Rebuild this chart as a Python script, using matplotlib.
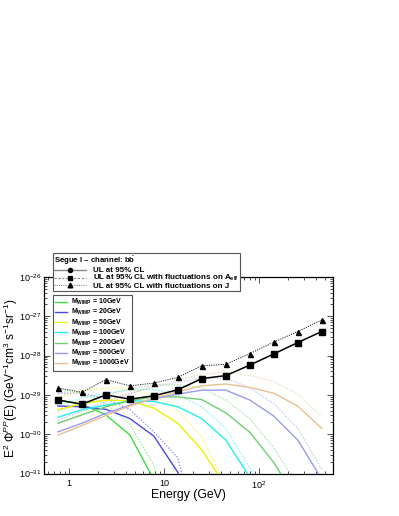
import matplotlib
matplotlib.use("Agg")
import matplotlib.pyplot as plt
from matplotlib.lines import Line2D
from matplotlib.ticker import LogLocator, FixedLocator, FixedFormatter, NullFormatter

plt.rcParams['font.family'] = ['Liberation Sans', 'DejaVu Sans']
plt.rcParams['mathtext.fontset'] = 'custom'
plt.rcParams['mathtext.rm'] = 'Liberation Sans'
plt.rcParams['mathtext.it'] = 'Liberation Sans:italic'
plt.rcParams['mathtext.bf'] = 'Liberation Sans:bold'

# ---------------- data ----------------
energy = [0.766, 1.37, 2.45, 4.38, 7.83, 14.0, 25.0, 44.8, 80.1, 143, 256, 458]

ul_aeff = [7.4e-30, 5.8e-30, 1.0e-29, 7.8e-30, 9.5e-30, 1.35e-29,
           2.6e-29, 3.1e-29, 5.75e-29, 1.1e-28, 2.15e-28, 4.1e-28]
ul_j = [1.5e-29, 1.17e-29, 2.45e-29, 1.7e-29, 2.0e-29, 2.8e-29,
        5.5e-29, 6.0e-29, 1.12e-28, 2.2e-28, 4.1e-28, 8.1e-28]

masses = ["10GeV", "20GeV", "50GeV", "100GeV", "200GeV", "500GeV", "1000GeV"]

m10_solid = [7.4e-30, 5.8e-30, 3.1e-30, 9.5e-31, 7e-32, 1e-33]
m10_dotted = [1.4e-29, 1.12e-29, 6.0e-30, 1.8e-30, 1.6e-31, 1e-33]
m20_solid = [5.2e-30, 5.0e-30, 4.3e-30, 2.5e-30, 8.9e-31, 1.07e-31, 1e-33]
m20_dotted = [1.1e-29, 1.12e-29, 8.1e-30, 4.2e-30, 1.15e-30, 2.5e-31, 1e-33]
m50_solid = [4.2e-30, 6.0e-30, 7.4e-30, 7.1e-30, 4.6e-30, 1.9e-30, 4.0e-31, 4.8e-32, 1e-33]
m50_dotted = [8.7e-30, 1.26e-29, 1.5e-29, 1.45e-29, 9.5e-30, 4.0e-30, 8.5e-31, 5e-32, 1e-33]
m100_solid = [2.7e-30, 4.2e-30, 5.5e-30, 7.1e-30, 6.8e-30, 5.0e-30, 2.5e-30, 7.1e-31, 8e-32, 1e-33]
m100_dotted = [5.4e-30, 8.3e-30, 1.1e-29, 1.38e-29, 1.35e-29, 1.0e-29, 5.0e-30, 1.4e-30, 1.4e-31, 1.6e-32]
m200_solid = [1.9e-30, 3.1e-30, 5.0e-30, 7.1e-30, 8.9e-30, 8.9e-30, 7.6e-30, 3.5e-30, 1.12e-30, 1.9e-31, 2e-32, 1e-33]
m200_dotted = [3.8e-30, 6.2e-30, 1.0e-29, 1.4e-29, 1.8e-29, 1.8e-29, 1.5e-29, 7.4e-30, 2.5e-30, 4.5e-31, 5e-32, 1e-33]
m500_solid = [1.15e-30, 1.9e-30, 3.4e-30, 5.5e-30, 7.9e-30, 1.05e-29, 1.32e-29, 1.32e-29, 7.4e-30, 2.9e-30, 7.1e-31, 7.2e-32]
m500_dotted = [2.3e-30, 3.8e-30, 6.8e-30, 1.1e-29, 1.6e-29, 2.1e-29, 2.6e-29, 2.7e-29, 1.5e-29, 6.0e-30, 1.4e-30, 1.26e-31]
m1000_solid = [9.5e-31, 1.66e-30, 3.0e-30, 5.2e-30, 8.3e-30, 1.2e-29, 1.7e-29, 1.9e-29, 1.55e-29, 1.1e-29, 5.2e-30, 1.4e-30]
m1000_dotted = [1.9e-30, 3.3e-30, 6.0e-30, 1.05e-29, 1.66e-29, 2.4e-29, 3.3e-29, 3.8e-29, 3.1e-29, 2.2e-29, 1.05e-29, 2.8e-30]

mass_colors = ["#3ce03c", "#4848ee", "#f0f000", "#22eeee", "#70d070", "#9a9aee", "#e8c090"]

solids = [m10_solid, m20_solid, m50_solid, m100_solid, m200_solid, m500_solid, m1000_solid]
dotteds = [m10_dotted, m20_dotted, m50_dotted, m100_dotted, m200_dotted, m500_dotted, m1000_dotted]

xtick_vals = [1, 10, 100]
xtick_labels = ["1", "10", "$10^{2}$"]

# ---------------- figure ----------------
W, H = 399, 516
fig = plt.figure(figsize=(W / 100, H / 100), dpi=100)
L, R, T, B = 44, 332.5, 277, 473.5
ax = fig.add_axes([L / W, 1 - B / H, (R - L) / W, (B - T) / H])

for sol, dot, c in zip(solids, dotteds, mass_colors):
    ax.plot(energy[:len(dot)], dot, color=c, lw=0.9, ls=(0, (1.2, 1.2)), alpha=0.55, zorder=2)
    ax.plot(energy[:len(sol)], sol, color=c, lw=1.0, zorder=3)

ax.plot(energy, ul_j, color="#222222", lw=0.7, ls=(0, (1.2, 1.2)), marker="^", ms=3.6,
        mfc="black", mec="black", zorder=5)
ax.plot(energy, ul_aeff, color="black", lw=1.1, marker="s", ms=3.8, zorder=6)

ax.set_xscale("log")
ax.set_yscale("log")
ax.set_xlim(0.546, 594)
ax.set_ylim(1e-31, 1e-26)

ax.xaxis.set_major_locator(FixedLocator(xtick_vals))
ax.xaxis.set_major_formatter(FixedFormatter(xtick_labels))
ax.xaxis.set_minor_locator(LogLocator(base=10, subs=range(2, 10), numticks=20))
ax.xaxis.set_minor_formatter(NullFormatter())
ax.yaxis.set_major_locator(LogLocator(base=10, numticks=10))
ax.yaxis.set_minor_locator(LogLocator(base=10, subs=range(2, 10), numticks=20))
ax.yaxis.set_minor_formatter(NullFormatter())

ax.tick_params(which="both", direction="in", top=True, right=True, labelsize=6.5, width=0.6, color="#333333")
ax.tick_params(which="major", length=4.5)
ax.tick_params(which="minor", length=2.3)
ax.tick_params(axis="x", which="major", pad=4)
ax.tick_params(axis="y", which="major", pad=1.5)
for s in ax.spines.values():
    s.set_linewidth(0.9)

fig.text(188 / W, 1 - 495 / H, "Energy (GeV)", ha="center", va="center", fontsize=8.8)
fig.text(11 / W, 1 - 378 / H,
         r"E$^{2}$ $\Phi^{PP}$(E) (GeV$^{-1}$cm$^{3}$ s$^{-1}$sr$^{-1}$)",
         ha="center", va="center", rotation=90, fontsize=8.6)

# ---------------- legends ----------------
gray = "#888888"
h1 = [Line2D([], [], color=gray, lw=1.0, marker="o", ms=3, mfc="black", mec="black"),
      Line2D([], [], color=gray, lw=0.8, ls=(0, (2, 1.5)), marker="s", ms=3.3, mfc="black", mec="black"),
      Line2D([], [], color=gray, lw=0.8, ls=(0, (1, 1)), marker="^", ms=3.3, mfc="black", mec="black")]
l1 = ["UL at 95% CL", r"UL at 95% CL with fluctuations on A$_{\mathbf{eff}}$",
      "UL at 95% CL with fluctuations on J"]
leg1 = fig.legend(h1, l1, loc="upper left", bbox_to_anchor=(52.7 / W, 1 - 253.3 / H),
                  borderaxespad=0, fancybox=False, framealpha=1, edgecolor="#555555",
                  prop={"weight": "bold", "size": 5.8}, title=r"Segue I – channel: b$\bar{\mathbf{b}}$",
                  title_fontproperties={"weight": "bold", "size": 5.6},
                  handlelength=4.0, handletextpad=0.8, labelspacing=-0.1, borderpad=0.15,
                  handleheight=0.5)
leg1._legend_box.align = "left"
leg1._legend_box.sep = 0
leg1.get_frame().set_linewidth(0.8)
leg1.set_zorder(10)

h2 = [Line2D([], [], color=c, lw=1.0) for c in mass_colors]
l2 = [r"M$_{\mathbf{WIMP}}$ = " + m for m in masses]
leg2 = fig.legend(h2, l2, loc="upper left", bbox_to_anchor=(52.7 / W, 1 - 295 / H),
                  borderaxespad=0, fancybox=False, framealpha=1, edgecolor="#555555",
                  prop={"weight": "bold", "size": 5.0},
                  handlelength=1.7, handletextpad=0.7, labelspacing=0.0, borderpad=0.3,
                  handleheight=0.5)
leg2.get_frame().set_linewidth(0.8)
leg2.set_zorder(10)

fig.savefig("out.png", dpi=100)
